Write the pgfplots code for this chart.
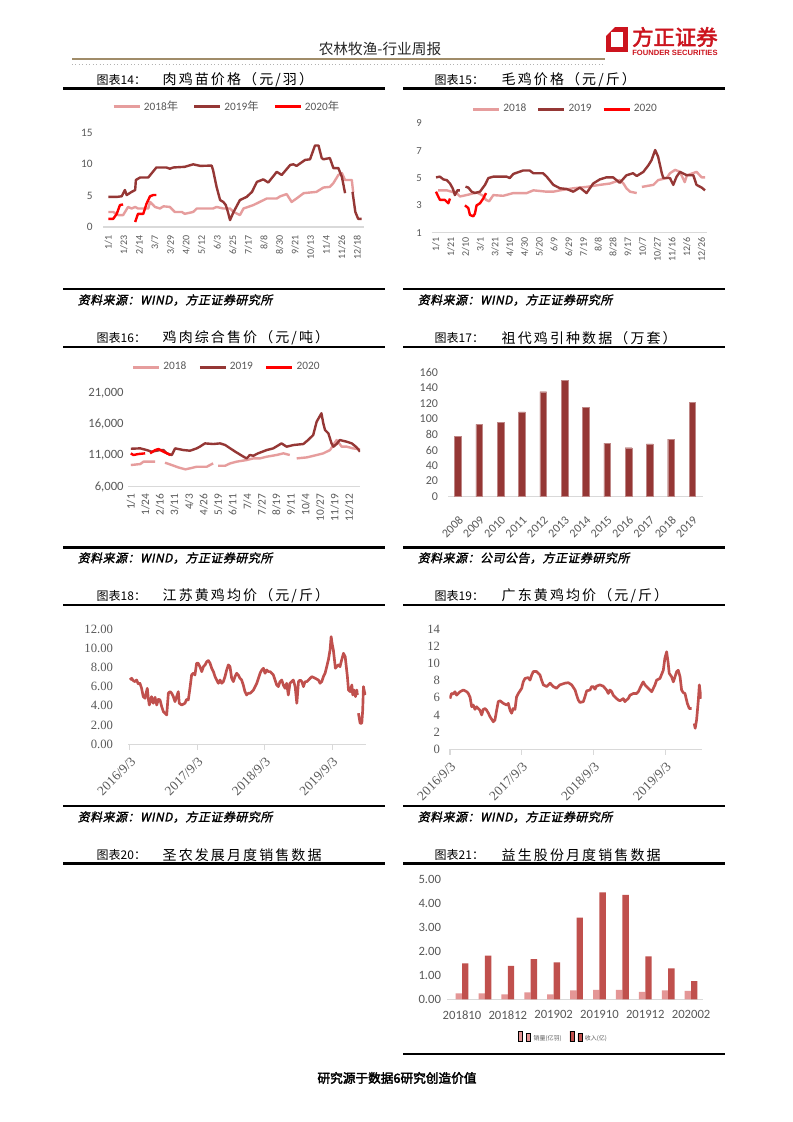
\documentclass[border=0pt]{standalone}
\usepackage{pgfplots}
\pgfplotsset{compat=1.18}
\usepackage{fontspec}
\setmainfont{Carlito}
\newfontfamily\cjk{Noto Sans CJK SC}
\newfontfamily\cjkb{Noto Sans CJK SC}[FakeBold=2.5]
\newfontfamily\cjkt{Noto Sans CJK SC}[LetterSpace=15]
\newfontfamily\cjksrc{Noto Sans CJK SC}[FakeBold=1.5,FakeSlant=0.2,LetterSpace=4]
\newfontfamily\lserif{Liberation Serif}
\newfontfamily\lsans{Liberation Sans}

\definecolor{pink18}{RGB}{230,157,157}
\definecolor{dark19}{RGB}{149,55,53}
\definecolor{red20}{RGB}{255,0,0}
\definecolor{xlred}{RGB}{192,80,77}
\definecolor{barpink}{RGB}{228,150,150}
\definecolor{lblgray}{RGB}{89,89,89}
\definecolor{axgray}{RGB}{217,217,217}
\definecolor{hdrline}{RGB}{160,140,105}
\definecolor{logored}{RGB}{204,20,30}

\pgfplotsset{
  pg/.style={
    scale only axis,
    anchor=south west,
    axis x line*=bottom, axis y line*=left,
    y axis line style={draw=none},
    x axis line style={draw=axgray, line width=0.9pt},
    major tick length=0pt,
    tick style={draw=none},
    ticklabel style={text=lblgray},
    scaled ticks=false,
    unbounded coords=jump,
    legend cell align=left,
    legend style={draw=none, fill=none, text=lblgray, anchor=center, inner sep=0pt},
  },
  yr/.style={line width=1.8pt, line join=round},
  lg3/.style={
    legend columns=3,
    legend image code/.code={\draw[##1, line width=2.2pt] (0pt,0pt) -- (19.5pt,0pt);},
  },
  sqleg/.style={
    legend columns=2,
    legend image code/.code={\fill[##1] (0pt,-1.6pt) rectangle (3.2pt,1.6pt);},
  },
}

\newcommand\tl[3]{% title: x of label, y, text
  \node[anchor=west, font=\cjk\fontsize{9}{9}\selectfont] at (#1,#2) {#3};}

\begin{document}
\begin{tikzpicture}[x=0.75pt,y=0.75pt]
\useasboundingbox (0,0) rectangle (793,1122);
\fill[white] (0,0) rectangle (793,1122);

% ---- header
\node[font=\cjk\fontsize{11}{13}\selectfont, text=black!85] at (380,1073) {农林牧渔-行业周报};
\draw[hdrline, line width=1.6pt] (72,1063) -- (605,1063);
\draw[gray!60, dotted, line width=0.6pt] (72,1058) -- (605,1058);
\fill[logored] (606,1070) rectangle (628,1095);
\fill[white] (611,1075) rectangle (623,1090);
\fill[white] (606,1095) -- (615,1095) -- (606,1086) -- cycle;
\node[anchor=west, inner sep=0pt, font=\cjkb\fontsize{16}{16}\selectfont, text=logored] at (632,1085) {方正证券};
\node[anchor=west, inner sep=0pt, text=logored] at (632,1069.5) {\resizebox{64pt}{!}{\lsans\bfseries FOUNDER SECURITIES}};

% ---- titles and rules
\tl{92}{1042}{图表14：}
\node[anchor=west, font=\cjkt\fontsize{10.5}{11}\selectfont] at (158,1042) {肉鸡苗价格（元/羽）};
\tl{430}{1042}{图表15：}
\node[anchor=west, font=\cjkt\fontsize{10.5}{11}\selectfont] at (497,1042) {毛鸡价格（元/斤）};
\tl{92}{784}{图表16：}
\node[anchor=west, font=\cjkt\fontsize{10.5}{11}\selectfont] at (158,784) {鸡肉综合售价（元/吨）};
\tl{430}{784}{图表17：}
\node[anchor=west, font=\cjkt\fontsize{10.5}{11}\selectfont] at (497,784) {祖代鸡引种数据（万套）};
\tl{92}{526}{图表18：}
\node[anchor=west, font=\cjkt\fontsize{10.5}{11}\selectfont] at (158,526) {江苏黄鸡均价（元/斤）};
\tl{430}{526}{图表19：}
\node[anchor=west, font=\cjkt\fontsize{10.5}{11}\selectfont] at (497,526) {广东黄鸡均价（元/斤）};
\tl{92}{267}{图表20：}
\node[anchor=west, font=\cjkt\fontsize{10.5}{11}\selectfont] at (158,267) {圣农发展月度销售数据};
\tl{430}{267}{图表21：}
\node[anchor=west, font=\cjkt\fontsize{10.5}{11}\selectfont] at (497,267) {益生股份月度销售数据};

\foreach \yy in {1033.5,775,517,258.5,833,574.5,316} {
  \draw[line width=2.2pt] (63,\yy) -- (385,\yy);
  \draw[line width=2.2pt] (403,\yy) -- (725,\yy);
}
\draw[line width=2.2pt] (403,68) -- (725,68);

\foreach \xx/\yy/\tt in {73/822/{资料来源：WIND，方正证券研究所}, 413/822/{资料来源：WIND，方正证券研究所},
  73/564/{资料来源：WIND，方正证券研究所}, 413/564/{资料来源：公司公告，方正证券研究所},
  73/305/{资料来源：WIND，方正证券研究所}, 413/305/{资料来源：WIND，方正证券研究所}}
  \node[anchor=west, font=\cjksrc\fontsize{9}{9}\selectfont] at (\xx,\yy) {\tt};

\node[font=\cjkb\fontsize{9.5}{10}\selectfont] at (397,44) {研究源于数据6研究创造价值};

% ---- chart 14
\coordinate (c14) at (103.3,895);
\begin{axis}[pg, lg3, at={(c14)}, width=195.4pt, height=70.5pt,
  xmin=-7, xmax=361, ymin=0, ymax=15,
  ytick={0,5,10,15}, yticklabels={0,5,10,15},
  xtick={0,22,...,352},
  xticklabels={1/1,1/23,2/14,3/7,3/29,4/20,5/12,6/3,6/25,7/17,8/8,8/30,9/21,10/13,11/4,11/26,12/18},
  yticklabel style={font=\fontsize{8.5}{9}\selectfont, xshift=-4.5pt},
  xticklabel style={font=\fontsize{7.5}{8}\selectfont, yshift=-3pt, rotate=90, anchor=east},
  legend style={at={(0.475,1.277)}, font=\fontsize{8.5}{9}\selectfont,
    /tikz/every even column/.append style={column sep=9pt}},
]
\addplot[yr, pink18] coordinates {
(0,2.4) (7,2.4) (14,1.9) (21,1.9) (28,3.2) (33,2.95) (38,3.2) (42,2.95) (56.5,2.95) (59,4.0)
(66,3.2) (73,2.95) (78,3.3) (87,3.2) (94,2.4) (104,2.4) (108,2.1) (120,2.4) (125,2.95) (134,2.95)
(148,2.95) (153,3.2) (162.5,2.95) (172,2.95) (177,2.4) (186,1.9) (191,2.95) (205,3.5) (214,4.0)
(224,4.55) (238,4.55) (243,4.9) (252,5.25) (259,4.0) (266,4.55) (276,5.4) (294,5.6) (304,6.3)
(313,6.4) (318,7.0) (325,8.3) (330,8.6) (334.5,7.5) (344,7.5) (346,5.5)};
\addlegendentry{2018{\cjk 年}}
\addplot[yr, dark19] coordinates {
(0,4.8) (12,4.8) (19,4.9) (23.5,5.9) (26,5.1) (33,5.6) (38,5.9) (39,7.5) (45,7.9) (56.5,7.9)
(68,9.5) (82,9.5) (87,9.3) (92,9.5) (108,9.6) (120,10.0) (130,9.75) (146,9.8) (148,9.1) (153,6.4)
(158,4.3) (162.5,4.0) (166,3.5) (169,2.4) (172,1.1) (177,2.4) (186,4.3) (195.5,4.8) (203,5.6)
(210,7.2) (219,7.6) (226,7.1) (238,8.8) (245,8.3) (257,9.9) (261.5,10.0) (266,9.75) (278,10.7)
(285,10.8) (292,13.0) (297,13.0) (301.5,11.0) (304,10.8) (313,11.0) (318,9.4) (325,9.4) (330,8.0)
(334.5,5.4) (340,nan) (345,5.6) (349,2.4) (353,1.3) (358,1.3)};
\addlegendentry{2019{\cjk 年}}
\addplot[yr, red20] coordinates {
(0,1.3) (7,1.3) (12,2.1) (16.5,3.5) (21,3.6) (30,nan)
(38,0.8) (42,2.1) (49.5,2.1) (54,3.7) (59,4.9) (63.6,5.1) (68,5.1)};
\addlegendentry{2020{\cjk 年}}
\end{axis}

% ---- chart 15
\coordinate (c15) at (431.7,889.3);
\begin{axis}[pg, lg3, at={(c15)}, width=206.25pt, height=82pt,
  xmin=-5.8, xmax=366.8, ymin=1, ymax=9,
  ytick={1,3,5,7,9}, yticklabels={1,3,5,7,9},
  xtick={0,20,...,360},
  xticklabels={1/1,1/21,2/10,3/1,3/21,4/10,4/30,5/20,6/9,6/29,7/19,8/8,8/28,9/17,10/7,10/27,11/16,12/6,12/26},
  yticklabel style={font=\fontsize{8}{9}\selectfont, xshift=-4pt},
  xticklabel style={font=\fontsize{7.5}{8}\selectfont, rotate=90, anchor=east},
  legend style={at={(0.487,1.131)}, font=\fontsize{8.5}{9}\selectfont,
    /tikz/every even column/.append style={column sep=6pt}},
]
\addplot[yr, pink18] coordinates {
(3,4.1) (14.5,4.1) (21,4.0) (28,3.9) (32.5,3.65) (37,3.7) (45,3.8) (55,3.95) (64,3.7) (67.8,3.4)
(72,3.3) (77.7,3.75) (91,3.7) (104.8,3.9) (123,3.9) (132,4.1) (150,4.0) (159,4.0) (168,4.1)
(186,4.25) (204,4.35) (222,4.5) (236,4.6) (249,4.85) (254,4.6) (258,4.25) (263,4.0) (272,3.9)
(276,nan) (279,4.35) (294.5,4.5) (301,4.85) (312.5,5.0) (317,5.35) (324,5.6) (330.6,5.45)
(337,4.7) (340,5.2) (353,5.45) (360,5.05) (364.5,5.05)};
\addlegendentry{2018}
\addplot[yr, dark19] coordinates {
(0,5.05) (5.4,5.1) (10,4.9) (14.5,4.85) (19,4.6) (22.6,4.25) (25.7,3.75) (29,4.1) (32.5,4.1)
(36,nan) (40,4.37) (43.8,4.3) (48.3,4.0) (52.8,3.9) (59.6,4.0) (66.4,4.5) (71,5.0) (77.7,5.1)
(95.8,5.1) (100,5.0) (104.8,5.3) (118,5.55) (127,5.55) (132,5.35) (145,5.35) (150,5.1) (159,4.5)
(168,4.25) (177,4.2) (186,4.0) (195,4.3) (204,3.9) (213,4.6) (222,4.9) (231,5.05) (240,5.05)
(249,4.65) (258,5.2) (267,5.35) (272,5.15) (281,5.45) (288,5.95) (292,6.3) (297,7.05) (301,6.55)
(306,5.35) (308,5.0) (317,5.0) (321.5,4.5) (326,5.1) (330.6,5.45) (340,5.2) (348.7,5.2)
(353,4.5) (360,4.3) (364.5,4.1)};
\addlegendentry{2019}
\addplot[yr, red20] coordinates {
(0,4.0) (3,3.65) (5.4,3.4) (12,3.4) (16.7,3.15) (19,3.5) (28,nan)
(39.3,3.0) (43.8,2.8) (46,2.3) (50.6,2.2) (52.8,2.4) (55,3.0) (59.6,3.15) (64,3.5) (67.8,3.9)};
\addlegendentry{2020}
\end{axis}

% ---- chart 16
\coordinate (c16) at (128.3,635.3);
\begin{axis}[pg, lg3, at={(c16)}, width=173.8pt, height=70pt,
  xmin=-4, xmax=362, ymin=6000, ymax=21000,
  ytick={6000,11000,16000,21000}, yticklabels={{6,000},{11,000},{16,000},{21,000}},
  xtick={0,23,...,345},
  xticklabels={1/1,1/24,2/16,3/11,4/3,4/26,5/19,6/11,7/4,7/27,8/19,9/11,10/4,10/27,11/19,12/12},
  yticklabel style={font=\fontsize{9.5}{10}\selectfont},
  xticklabel style={font=\fontsize{8.5}{9}\selectfont, yshift=-2pt, rotate=90, anchor=east},
  legend style={at={(0.426,1.282)}, font=\fontsize{8.5}{9}\selectfont,
    /tikz/every even column/.append style={column sep=7pt}},
]
\addplot[yr, pink18] coordinates {
(0,9480) (15,9640) (20,10020) (38.4,10020) (46,nan) (54,9860) (64.7,9480) (75,9100) (86,8790)
(93.6,8950) (104,9210) (120,9210) (125,9480) (130,9750) (134,nan) (138,9370) (149,9370)
(157,9750) (167,10020) (183,10290) (193.6,10550) (204,10550) (214.6,10820) (230,11090)
(241,11360) (251,11090) (256,nan) (262,10550) (278,10710) (293.5,11090) (304,11360) (314.6,11890)
(325,13500) (333,12430) (341,12430) (351,12160) (362,12000)};
\addlegendentry{2018}
\addplot[yr, dark19] coordinates {
(0,12100) (15,12160) (25,11890) (33,11625) (46,11890) (51.5,11890) (57,11360) (64.7,11090)
(70,12160) (83,11890) (93.6,11785) (104,12160) (109,12430) (117,12960) (130,12860) (141,12960)
(149,12700) (157,12160) (165,11625) (178,10820) (183,10550) (188,11090) (193.6,10980) (201,11360)
(214.6,11890) (225,12160) (238,12960) (246,12430) (257,12700) (272.5,12860) (280,13500)
(288,14300) (293.5,16450) (298,17250) (301,17800) (304,16180) (306.7,15100) (312,14570)
(317,12960) (320,12430) (325,12860) (330,13500) (341,13230) (349,12960) (356.7,12320) (362,11620)};
\addlegendentry{2019}
\addplot[yr, red20] coordinates {
(0,11360) (4,11090) (12,11250) (22.6,11360) (26,nan) (30.5,11360) (38.4,11890) (43.7,12050)
(51.5,11620) (59.4,11250) (62,11090)};
\addlegendentry{2020}
\end{axis}

% ---- chart 17
\coordinate (c17) at (448,625.3);
\begin{axis}[pg, at={(c17)}, width=191.25pt, height=93.3pt,
  ybar, bar width=5pt,
  xmin=-0.47, xmax=11.5, ymin=0, ymax=160,
  ytick={0,20,...,160}, yticklabels={0,20,40,60,80,100,120,140,160},
  xtick={0,...,11},
  xticklabels={2008,2009,2010,2011,2012,2013,2014,2015,2016,2017,2018,2019},
  yticklabel style={font=\fontsize{9}{10}\selectfont, xshift=-4pt},
  xticklabel style={font=\fontsize{9}{10}\selectfont, yshift=-9pt, rotate=45, anchor=north east},
]
\addplot[fill=dark19, draw=dark19!60!white, line width=0.3pt] coordinates {
(0,78) (1,93) (2,96) (3,109) (4,135) (5,150) (6,115) (7,69) (8,63) (9,68) (10,74) (11,121)};
\end{axis}

% ---- chart 18
\coordinate (c18) at (128.3,377.7);
\begin{axis}[pg, at={(c18)}, width=178.3pt, height=86.5pt,
  xmin=-9, xmax=1279, ymin=0, ymax=12,
  ytick={0,2,...,12}, yticklabels={0.00,2.00,4.00,6.00,8.00,10.00,12.00},
  xtick={0,365,730,1095}, xticklabels={2016/9/3,2017/9/3,2018/9/3,2019/9/3},
  xtick style={draw=axgray, line width=0.8pt}, xtick align=outside, major tick length=4pt,
  ytick style={draw=none},
  yticklabel style={font=\lserif\fontsize{9.5}{10}\selectfont, xshift=-8pt},
  xticklabel style={font=\lserif\fontsize{10}{11}\selectfont, rotate=45, anchor=north east},
]
\addplot[line width=2pt, xlred, line join=round] coordinates {
(0,6.7) (9,6.87) (18,6.62) (27,6.52) (36,6.69) (45,6.28) (54,6.35) (63,5.83) (72,4.96) (81,4.79)
(94,5.83) (99,4.79) (105,4.09) (117,4.96) (126,4.27) (136,4.89) (145,4.09) (154,4.68) (163,4.61)
(172,3.92) (181,3.4) (190,3.23) (199,3.05) (208,5.31) (217,5.48) (226,5.31) (235,4.96) (244,4.44)
(253,4.96) (262,5.48) (267,4.27) (280,4.09) (298,4.27) (307,4.68) (316,4.61) (325,5.83) (334,7.21)
(343,7.39) (352,7.21) (361,8.43) (370,8.43) (379,8.08) (389,7.56) (398,8.08) (407,8.26) (416,8.6)
(425,8.71) (434,8.43) (443,7.91) (452,7.56) (461,7.04) (470,6.69) (479,6.35) (488,6.69) (497,6.35)
(506,6.52) (515,7.04) (524,7.73) (533,8.26) (542,8.08) (551,6.87) (560,6.52) (569,7.04) (578,7.39)
(587,7.21) (596,6.87) (605,6.69) (614,6.17) (623,5.48) (632,5.13) (641,5.31) (651,5.31) (660,5.48)
(669,5.65) (687,6.35) (705,7.39) (714,7.73) (723,7.91) (732,7.39) (741,7.73) (750,7.56) (759,7.56)
(768,7.39) (777,7.21) (786,6.69) (795,6.17) (804,6.0) (813,6.52) (822,6.69) (831,6.17) (840,5.83)
(849,6.35) (858,5.13) (867,6.35) (876,6.52) (885,6.69) (895,6.0) (904,4.27) (913,6.52) (922,6.69)
(931,6.52) (940,6.0) (949,6.52) (958,6.52) (967,6.69) (976,6.87) (985,7.04) (1003,6.87) (1021,6.69)
(1030,6.35) (1039,6.52) (1048,7.04) (1057,7.39) (1066,8.08) (1075,8.78) (1084,9.8) (1090,11.2)
(1095,10.5) (1102,9.8) (1108,8.78) (1113,7.91) (1120,8.08) (1129,8.26) (1138,8.08) (1147,8.78)
(1157,9.47) (1166,9.12) (1171,8.26) (1178,7.04) (1184,5.65) (1193,5.48) (1202,6.17) (1207,5.13)
(1214,5.65) (1222,4.96) (1229,5.65) (1232,5.13) (1235,nan) (1238,3.23) (1247,2.19) (1256,2.19)
(1261,3.57) (1265,6.0) (1270,5.48) (1276,5.13)};
\end{axis}

% ---- chart 19
\coordinate (c19) at (449.3,372.7);
\begin{axis}[pg, at={(c19)}, width=189.3pt, height=90.2pt,
  xmin=-3.5, xmax=1278, ymin=0, ymax=14,
  ytick={0,2,...,14}, yticklabels={0,2,4,6,8,10,12,14},
  xtick={0,365,730,1095}, xticklabels={2016/9/3,2017/9/3,2018/9/3,2019/9/3},
  xtick style={draw=axgray, line width=0.8pt}, xtick align=outside, major tick length=4pt,
  ytick style={draw=none},
  yticklabel style={font=\lserif\fontsize{9.5}{10}\selectfont, xshift=-3.5pt},
  xticklabel style={font=\lserif\fontsize{10}{11}\selectfont, rotate=45, anchor=north east},
]
\addplot[line width=2pt, xlred, line join=round] coordinates {
(0,5.9) (8,6.5) (17,6.45) (25,6.7) (34,6.3) (42,6.5) (51,6.7) (68,6.9) (85,6.7) (93,6.5) (102,6.05)
(110,4.95) (118,5.15) (127,4.65) (135,4.95) (152,4.55) (161,4.0) (169,4.65) (178,4.75) (186,4.55)
(195,4.2) (203,3.8) (220,3.2) (228,3.4) (237,4.55) (245,5.55) (254,5.65) (271,5.35) (288,5.15)
(296,5.35) (305,4.55) (313,4.2) (321,4.75) (330,4.65) (338,6.1) (347,6.5) (364,7.1) (372,7.85)
(381,8.25) (398,8.35) (406,8.05) (415,8.65) (423,9.05) (440,9.05) (457,8.65) (465,8.05) (474,7.5)
(491,7.3) (508,7.7) (525,7.3) (541,7.1) (558,7.5) (584,7.7) (601,7.75) (618,7.5) (635,6.9) (643,6.3)
(651,5.75) (660,5.45) (677,5.55) (685,6.1) (694,6.8) (711,6.9) (719,7.3) (728,7.3) (736,7.0)
(744,7.35) (761,7.5) (778,7.35) (795,6.9) (804,6.5) (812,6.9) (821,6.7) (829,6.3) (846,5.9)
(854,5.75) (863,5.65) (880,5.9) (888,5.55) (897,5.75) (905,5.9) (914,6.3) (931,6.5) (948,6.5)
(956,6.7) (973,7.5) (981,7.85) (990,7.5) (1007,7.1) (1024,6.7) (1041,7.5) (1049,8.05) (1066,8.25)
(1083,9.2) (1091,10.6) (1100,11.35) (1108,10.0) (1113,8.85) (1125,8.45) (1134,7.85) (1151,9.05)
(1159,9.2) (1168,8.45) (1176,6.9) (1184,6.6) (1193,6.5) (1205,5.35) (1215,4.75) (1227,4.75)
(1233,nan) (1240,3.0) (1245,2.45) (1252,3.4) (1261,5.75) (1266,7.5) (1272,6.3) (1277,5.9)};
\end{axis}

% ---- chart 21
\coordinate (c21) at (447,122.7);
\begin{axis}[pg, sqleg, at={(c21)}, width=192pt, height=90pt,
  ybar=0pt, bar width=4.8pt,
  xmin=-0.655, xmax=10.52, ymin=0, ymax=5,
  ytick={0,1,...,5}, yticklabels={0.00,1.00,2.00,3.00,4.00,5.00},
  xtick={0,2,4,6,8,10}, xticklabels={201810,201812,201902,201910,201912,202002},
  yticklabel style={font=\fontsize{9.5}{10}\selectfont, xshift=-1pt},
  xticklabel style={font=\fontsize{9.5}{10}\selectfont, yshift=-5pt},
  legend style={at={(0.457,-0.3225)}, font=\fontsize{4.5}{5}\selectfont,
    /tikz/every even column/.append style={column sep=4pt}},
]
\addplot[fill=barpink, draw=none] coordinates {
(0,0.25) (1,0.25) (2,0.21) (3,0.29) (4,0.21) (5,0.37) (6,0.39) (7,0.39) (8,0.31) (9,0.37) (10,0.35)};
\addlegendentry{\cjk 销量(亿羽)}
\addplot[fill=xlred, draw=none] coordinates {
(0,1.50) (1,1.82) (2,1.39) (3,1.67) (4,1.54) (5,3.40) (6,4.46) (7,4.35) (8,1.79) (9,1.29) (10,0.76)};
\addlegendentry{\cjk 收入(亿)}
\end{axis}
\end{tikzpicture}
\end{document}
